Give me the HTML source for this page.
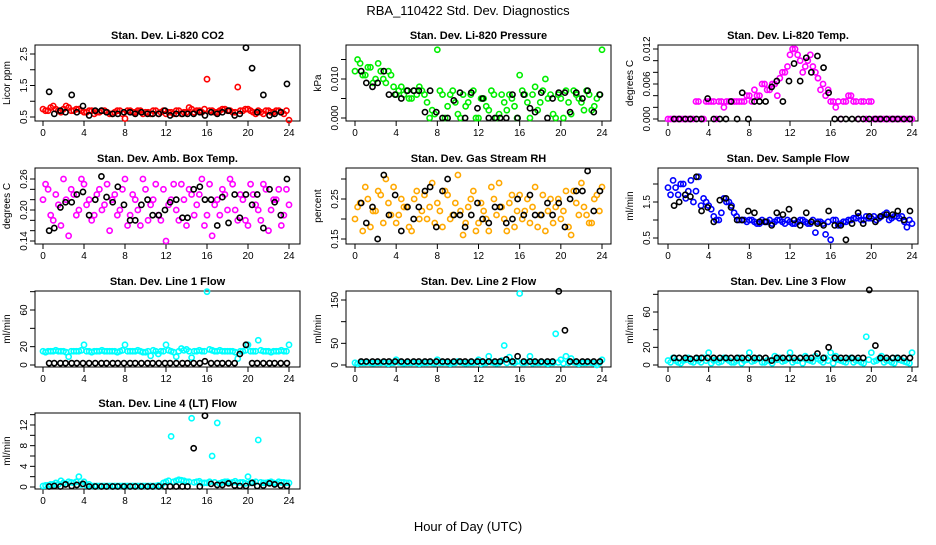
<!DOCTYPE html>
<html><head><meta charset="utf-8"><style>
html,body{margin:0;padding:0;background:#fff;}
svg text{font-family:"Liberation Sans",sans-serif;}
</style></head><body>
<svg id="chart" width="936" height="540" xmlns="http://www.w3.org/2000/svg">
<rect width="936" height="540" fill="#fff"/>
<text x="468" y="15" text-anchor="middle" font-size="13">RBA_110422  Std. Dev. Diagnostics</text>
<text x="468" y="531" text-anchor="middle" font-size="13">Hour of Day (UTC)</text>
</svg>
<script>
const hours = [0,4,8,12,16,20,24];
const blackT = [0.6,1.1,1.7,2.2,2.8,3.3,3.9,4.5,5.1,5.7,6.2,6.8,7.3,7.9,8.5,9.0,9.6,10.2,10.7,11.3,11.9,12.4,13.0,13.6,14.1,14.7,15.3,15.8,16.4,17.0,17.5,18.1,18.7,19.2,19.8,20.4,20.9,21.5,22.1,22.6,23.2,23.8];
const co2Color = [0.75,0.7,0.85,0.7,0.75,0.8,0.7,0.75,0.65,0.7,0.6,0.65,0.7,0.6,0.65,0.7,0.45,0.7,0.65,0.7,0.65,0.6,0.7,0.65,0.6,0.65,0.7,0.6,0.65,0.75,0.7,0.65,1.7,0.7,0.65,0.75,0.7,0.65,1.45,0.7,0.75,0.65,0.7,0.6,0.7,0.65,0.7,0.6,0.4];
const co2Color2 = [0.7,0.8,0.75,0.65,0.85,0.7,0.75,0.7,0.65,0.7,0.65,0.7,0.65,0.6,0.7,0.6,0.7,0.65,0.7,0.6,0.65,0.7,0.6,0.7,0.65,0.6,0.7,0.65,0.8,0.65,0.7,0.75,0.7,0.65,0.7,0.75,0.7,0.65,0.7,0.75,0.7,0.6,0.65,0.7,0.65,0.7,0.65,0.7];
const co2Black = [1.3,0.6,0.7,0.65,1.2,0.65,0.85,0.55,0.7,0.7,0.65,0.6,0.6,0.65,0.65,0.6,0.65,0.6,0.6,0.6,0.7,0.55,0.6,0.6,0.6,0.6,0.65,0.55,0.65,0.6,0.65,0.7,0.55,0.6,2.7,2.05,0.65,1.2,0.55,0.6,0.65,1.55];
const presColor = [0.012,0.014,0.011,0.013,0.010,0.012,0.009,0.011,0.006,0.008,0.007,0.005,0.006,0.007,0.004,0.002,0.0175,0.006,0.003,0.007,0.001,0.006,0.004,0.007,0.000,0.005,0.002,0.006,0.001,0.004,0.006,0.003,0.011,0.006,0.000,0.008,0.004,0.010,0.006,0.000,0.005,0.007,0.001,0.006,0.004,0.007,0.002,0.005,0.0175];
const presColor2 = [0.015,0.011,0.013,0.009,0.014,0.010,0.012,0.008,0.007,0.006,0.005,0.007,0.008,0.006,0.000,0.001,0.007,0.000,0.006,0.004,0.000,0.003,0.006,0.000,0.005,0.003,0.007,0.000,0.006,0.002,0.005,0.000,0.007,0.004,0.006,0.002,0.007,0.005,0.001,0.006,0.000,0.004,0.007,0.005,0.002,0.006,0.003,0.006];
const presBlack = [0.012,0.009,0.008,0.009,0.012,0.006,0.006,0.005,0.007,0.007,0.007,0.0015,0.007,0.0015,0.0,0.0,0.0045,0.0065,0.0,0.0065,0.0025,0.005,0.0,0.0,0.0,0.0,0.006,0.0,0.006,0.0025,0.0015,0.0065,0.0,0.005,0.0065,0.0065,0.0015,0.0065,0.005,0.007,0.0015,0.006];
const tempColor = [0,0,0,0,0,0,0.003,0,0.003,0.003,0.003,0.002,0.003,0.003,0.003,0.003,0.004,0.005,0.004,0.006,0.005,0.006,0.007,0.008,0.011,0.012,0.010,0.009,0.011,0.008,0.005,0.004,0.003,0.002,0,0.003,0.004,0.003,0.003,0,0.003,0,0,0,0,0,0,0,0];
const tempColor2 = [0,0,0,0,0,0.003,0,0.003,0.003,0,0.003,0.003,0.003,0.003,0.003,0.004,0.003,0.004,0.006,0.005,0.006,0.004,0.008,0.009,0.012,0.011,0.008,0.010,0.009,0.007,0.006,0.005,0.003,0.003,0.003,0.004,0.003,0,0.003,0.003,0,0,0,0,0,0,0,0];
const tempBlack = [0,0,0,0,0,0,0.0035,0,0,0,0.003,0,0.0045,0,0.003,0.003,0.003,0.0055,0.0065,0.003,0.0065,0.0095,0.0065,0.0105,0.008,0.0108,0.0088,0.0045,0,0,0,0,0,0,0,0,0,0,0,0,0,0];
const ambColor = [0.22,0.24,0.18,0.21,0.26,0.15,0.23,0.20,0.25,0.22,0.19,0.24,0.21,0.16,0.23,0.20,0.26,0.19,0.22,0.17,0.24,0.21,0.25,0.18,0.14,0.22,0.20,0.25,0.17,0.23,0.21,0.26,0.19,0.15,0.22,0.24,0.20,0.25,0.18,0.22,0.17,0.23,0.20,0.25,0.16,0.22,0.24,0.19,0.21];
const ambColor2 = [0.25,0.19,0.23,0.17,0.22,0.24,0.19,0.26,0.21,0.18,0.23,0.20,0.25,0.22,0.19,0.24,0.17,0.23,0.20,0.26,0.18,0.22,0.19,0.24,0.21,0.25,0.18,0.22,0.24,0.19,0.23,0.17,0.25,0.21,0.19,0.23,0.26,0.20,0.23,0.18,0.25,0.21,0.18,0.24,0.20,0.22,0.17,0.24];
const ambBlack = [0.16,0.165,0.205,0.215,0.215,0.23,0.235,0.19,0.22,0.265,0.225,0.215,0.245,0.21,0.18,0.18,0.21,0.22,0.19,0.19,0.2,0.215,0.22,0.185,0.185,0.24,0.245,0.22,0.22,0.17,0.225,0.175,0.23,0.185,0.23,0.21,0.23,0.165,0.24,0.215,0.19,0.26];
const rhColor = [0.20,0.24,0.28,0.18,0.22,0.26,0.30,0.21,0.19,0.25,0.23,0.17,0.27,0.22,0.20,0.29,0.24,0.18,0.26,0.21,0.31,0.16,0.23,0.27,0.19,0.22,0.17,0.25,0.29,0.20,0.24,0.18,0.26,0.22,0.19,0.28,0.21,0.17,0.25,0.23,0.20,0.27,0.16,0.24,0.29,0.21,0.19,0.26,0.28];
const rhColor2 = [0.23,0.17,0.25,0.22,0.27,0.19,0.24,0.28,0.21,0.23,0.18,0.25,0.20,0.26,0.23,0.19,0.22,0.27,0.20,0.24,0.22,0.19,0.25,0.17,0.24,0.20,0.28,0.21,0.23,0.17,0.26,0.22,0.20,0.25,0.23,0.18,0.26,0.22,0.19,0.25,0.22,0.18,0.27,0.21,0.23,0.19,0.25,0.22];
const rhBlack = [0.24,0.19,0.23,0.15,0.31,0.21,0.26,0.17,0.23,0.2,0.23,0.27,0.28,0.18,0.27,0.3,0.21,0.21,0.18,0.21,0.24,0.2,0.19,0.23,0.23,0.19,0.2,0.25,0.21,0.26,0.21,0.21,0.24,0.21,0.24,0.18,0.25,0.27,0.27,0.32,0.22,0.27];
const flowColor = [1.9,2.1,1.7,2.0,1.8,1.5,2.2,1.6,1.4,1.1,1.0,1.6,1.5,1.2,1.0,1.0,1.0,0.95,0.9,0.95,1.0,0.95,1.0,0.9,0.95,0.9,1.0,0.95,0.9,0.65,0.95,0.6,0.45,1.0,0.9,0.95,1.0,1.05,1.0,1.1,1.05,1.0,1.1,1.2,1.05,1.1,1.1,0.8,0.9];
const flowColor2 = [1.7,1.9,2.0,1.6,2.1,1.8,1.4,1.5,1.3,1.0,1.2,1.5,1.4,1.1,1.0,0.95,1.0,0.9,1.0,0.95,0.9,1.0,0.95,1.0,0.9,0.95,1.0,0.9,1.0,0.95,0.9,0.95,1.0,0.85,0.95,1.0,1.05,1.1,1.0,1.05,1.1,1.05,1.15,1.0,1.1,1.05,0.95,1.0];
const flowBlack = [1.4,1.5,1.7,1.65,2.2,1.25,1.35,0.95,1.55,1.6,1.35,1.0,1.0,1.25,1.2,0.95,0.95,0.85,1.2,1.15,1.3,1.0,0.85,1.2,0.95,0.9,0.85,1.25,0.85,0.85,0.45,0.9,1.2,0.9,1.1,0.95,1.1,1.15,1.15,1.25,1.0,1.25];
const l1Color = [15,15,15,15,15,9,15,15,22,15,15,15,15,15,15,15,22,15,15,15,14,10,15,15,22,15,9,18,17,8,15,15,80,16,15,15,15,15,7,15,22,15,27,15,15,15,15,15,22];
const l1Color2 = [14,15,16,15,14,15,15,16,15,14,15,16,15,15,14,16,15,15,16,14,15,16,12,15,16,14,15,16,15,15,16,15,17,15,16,15,15,14,15,16,15,15,16,15,14,15,16,15];
const l1Black = [2,2,2,2,2,2,2,2,2,2,2,2,2,2,2,2,2,2,2,2,2,2,2,2,2,2,2,4,2,2,2,2,2,12,22,2,2,2,2,2,2,2];
const l2Color = [5,5,5,5,5,5,5,5,12,5,5,5,5,5,5,5,12,5,5,5,8,5,5,5,12,5,20,5,5,45,18,5,165,5,20,5,5,5,5,72,12,20,15,5,5,5,5,0,12];
const l2Color2 = [3,5,6,4,5,6,3,5,6,4,5,6,3,5,6,4,5,6,3,5,6,4,5,6,3,5,6,4,10,5,6,8,5,6,4,5,6,3,5,6,4,5,6,3,5,6,4,5];
const l2Black = [8,8,8,8,8,8,8,8,8,8,8,8,8,8,8,8,8,8,8,8,8,8,8,8,8,13,8,20,8,8,8,8,8,8,170,80,8,8,8,8,8,8];
const l3Color = [5,8,3,5,8,3,5,8,14,5,3,8,5,3,8,5,14,5,8,3,5,10,8,5,14,5,8,10,5,10,5,8,14,10,5,3,8,5,3,32,14,5,10,5,3,8,5,3,14];
const l3Color2 = [3,5,2,6,4,7,3,5,2,6,4,7,3,5,2,6,4,7,3,5,2,6,4,7,3,5,2,6,4,7,3,5,2,6,4,7,3,5,2,6,4,7,3,5,2,6,4,2];
const l3Black = [8,8,8,7,8,8,8,8,8,8,8,8,8,8,8,8,8,5,8,8,8,8,8,8,8,13,8,20,8,8,8,8,8,8,85,22,8,8,8,8,8,8];
const l4Color = [0.2,0.3,0.5,0.5,0.8,1.0,0.8,2.0,1.0,0.5,0.2,0.2,0.2,0.2,0.2,0.2,0.2,0.2,0.2,0.2,0.2,0.2,0.2,0.2,1.0,9.8,1.2,1.3,1.0,13.3,1.0,0.8,0.8,6.0,12.4,0.9,1.0,0.9,0.8,0.9,2.0,0.9,9.1,0.8,0.9,0.8,1.0,0.9,0.8];
const l4Color2 = [0.3,0.5,0.8,1.2,0.6,0.9,1.0,0.5,0.3,0.2,0.2,0.2,0.2,0.2,0.2,0.2,0.2,0.2,0.2,0.2,0.2,0.2,0.3,0.8,1.2,1.0,1.4,1.2,1.0,0.9,1.1,0.8,1.0,0.9,0.7,1.0,0.8,1.1,0.9,0.7,0.8,1.0,0.9,0.8,1.0,0.7,0.9,0.8];
const l4Black = [0.1,0.2,0.1,0.5,0.2,0.4,0.6,0.1,0.1,0.1,0.1,0.1,0.1,0.1,0.1,0.1,0.1,0.1,0.1,0.1,0.1,0.1,0.1,0.1,0.1,7.5,0.1,13.8,0.6,0.4,0.4,0.7,0.3,0.2,0.2,0.8,0.2,0.3,0.7,0.5,0.3,0.2];
const titles = ["Stan. Dev. Li-820 CO2","Stan. Dev. Li-820 Pressure","Stan. Dev. Li-820 Temp.","Stan. Dev. Amb. Box Temp.","Stan. Dev. Gas Stream RH","Stan. Dev. Sample Flow","Stan. Dev. Line 1 Flow","Stan. Dev. Line 2 Flow","Stan. Dev. Line 3 Flow","Stan. Dev. Line 4 (LT) Flow"];
const yTicks = [[0.5,1,1.5,2,2.5],[0,0.005,0.01,0.015],[0,0.002,0.004,0.006,0.008,0.01,0.012],[0.14,0.16,0.18,0.2,0.22,0.24,0.26],[0.15,0.2,0.25,0.3],[0.5,1,1.5,2],[0,20,40,60,80],[0,50,100,150],[0,20,40,60,80],[0,2,4,6,8,10,12,14]];
const yTickLabels = [["0.5","","1.5","","2.5"],["0.000","","0.010",""],["0.000","","","0.006","","","0.012"],["0.14","","","0.20","","","0.26"],["0.15","","0.25",""],["0.5","","1.5",""],["0","20","","60",""],["0","50","","150"],["0","20","","60",""],["0","","4","","8","","12",""]];
const yLabels = ["Licor ppm","kPa","degrees C","degrees C","percent","ml/min","ml/min","ml/min","ml/min","ml/min"];
const colorSeries = [co2Color,presColor,tempColor,ambColor,rhColor,flowColor,l1Color,l2Color,l3Color,l4Color];
const colorSeries2 = [co2Color2,presColor2,tempColor2,ambColor2,rhColor2,flowColor2,l1Color2,l2Color2,l3Color2,l4Color2];
const blackSeries = [co2Black,presBlack,tempBlack,ambBlack,rhBlack,flowBlack,l1Black,l2Black,l3Black,l4Black];
const colors = ["#ff0000","#00ee00","#ff00ff","#ff00ff","#ffa800","#0000ff","#00ffff","#00ffff","#00ffff","#00ffff"];
const cols = [{L:35,R:300,x0:43,x24:289},{L:346,R:611,x0:355,x24:602},{L:658,R:918,x0:668,x24:912}];
const rows = [{T:45,B:121},{T:168,B:244},{T:291,B:367},{T:413,B:489}];
const yAnch = [[0.5,117,2.5,54],[0,118,0.01,79],[0,119,0.012,49],[0.14,241,0.26,179],[0.15,239,0.25,199],[0.5,238,1.5,202],[0,365,60,310],[0,365,150,300],[0,365,60,312],[0,487,12,425]];
const svg = document.getElementById('chart');
const NS = 'http://www.w3.org/2000/svg';
function mk(tag, attrs, parent){const e=document.createElementNS(NS,tag);for(const k in attrs)e.setAttribute(k,attrs[k]);(parent||svg).appendChild(e);return e;}
for(let p=0;p<10;p++){
  const c=cols[p%3], r=rows[Math.floor(p/3)], a=yAnch[p];
  const xs=h=>c.x0+(c.x24-c.x0)*h/24;
  const ys=v=>a[1]+(a[3]-a[1])*(v-a[0])/(a[2]-a[0]);
  const g=mk('g',{});
  
  
  const t=mk('text',{x:(c.L+c.R)/2,y:r.T-6,'text-anchor':'middle','font-size':'11','font-weight':'bold'},g);
  
  
  t.textContent=titles[p];
  const box=mk('rect',{x:c.L,y:r.T,width:c.R-c.L,height:r.B-r.T,fill:'none',stroke:'#000','stroke-width':1},g);
  
  
  hours.forEach(h=>{
    const x=xs(h);
    mk('line',{x1:x,x2:x,y1:r.B,y2:r.B+5,stroke:'#000'},g);
    const tl=mk('text',{x:x,y:r.B+15,'text-anchor':'middle','font-size':'10'},g);
    
    
    tl.textContent=h;
  });
  yTicks[p].forEach((v,i)=>{
    const y=ys(v);
    mk('line',{x1:c.L-5,x2:c.L,y1:y,y2:y,stroke:'#000'},g);
    if(yTickLabels[p][i]){
      const tl=mk('text',{x:c.L-8,y:y,'text-anchor':'middle','font-size':'10',transform:'rotate(-90 '+(c.L-8)+' '+y+')'},g);
      
      
      tl.textContent=yTickLabels[p][i];
    }
  });
  const ylx=c.L-25, yly=(r.T+r.B)/2;
  const yl=mk('text',{x:ylx,y:yly,'text-anchor':'middle','font-size':'10',transform:'rotate(-90 '+ylx+' '+yly+')'},g);
  
  
  yl.textContent=yLabels[p];
  colorSeries[p].forEach((v,i)=>{
    const pt=mk('circle',{cx:xs(i*0.5),cy:ys(v),r:2.6,fill:'none',stroke:colors[p],'stroke-width':1.6},g);
    
    
  });
  colorSeries2[p].forEach((v,i)=>{
    const pt=mk('circle',{cx:xs(i*0.5+0.25),cy:ys(v),r:2.6,fill:'none',stroke:colors[p],'stroke-width':1.6},g);
    
    
  });
  blackSeries[p].forEach((v,i)=>{
    const pt=mk('circle',{cx:xs(blackT[i]),cy:ys(v),r:2.6,fill:'none',stroke:'#000','stroke-width':1.6},g);
    
    
  });
}
</script>
</body></html>
